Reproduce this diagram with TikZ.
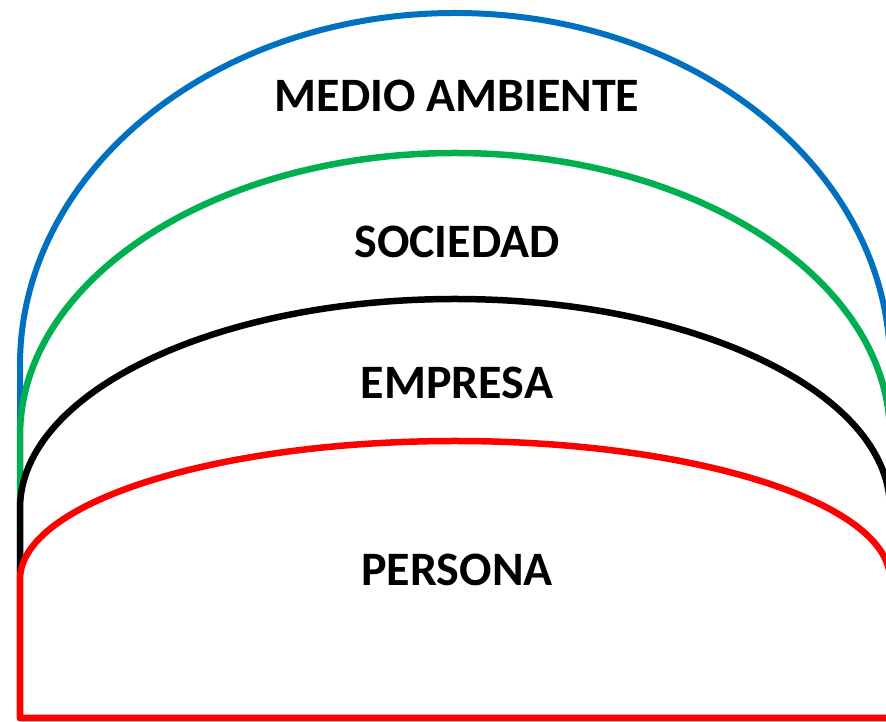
\documentclass[tikz,border=0pt]{standalone}
\usepackage{fontspec}
\setmainfont{Carlito}
\definecolor{archblue}{HTML}{0070C0}
\definecolor{archgreen}{HTML}{00B050}
\definecolor{archred}{HTML}{FF0000}
\begin{document}
\begin{tikzpicture}[x=1pt,y=1pt,
  arch/.style={line width=6.5pt, fill=white, line join=round},
  lbl/.style={font=\bfseries\fontsize{48}{56}\selectfont, inner sep=0pt}]
\useasboundingbox (0,0) rectangle (886,722);
% blue
\draw[arch, draw=archblue, line width=6pt] (20,4) -- (20,357) arc[start angle=180, end angle=0, x radius=435pt, y radius=352pt] -- (890,4) -- cycle;
% green
\draw[arch, draw=archgreen] (20,4) -- (20,286.5) arc[start angle=180, end angle=0, x radius=435pt, y radius=282.5pt] -- (890,4) -- cycle;
% black
\draw[arch, draw=black] (20,4) -- (20,213.5) arc[start angle=180, end angle=0, x radius=435pt, y radius=209.5pt] -- (890,4) -- cycle;
% red
\draw[arch, draw=archred] (20,4) -- (20,142.5) arc[start angle=180, end angle=0, x radius=435pt, y radius=138.5pt] -- (890,4) -- cycle;
\node[lbl] (medio) at (457,626) {MEDIO AMBIENTE};
\node[lbl] (sociedad) at (457,480) {SOCIEDAD};
\node[lbl] (empresa) at (457,339) {EMPRESA};
\node[lbl] (persona) at (457,152) {PERSONA};
\end{tikzpicture}
\end{document}
